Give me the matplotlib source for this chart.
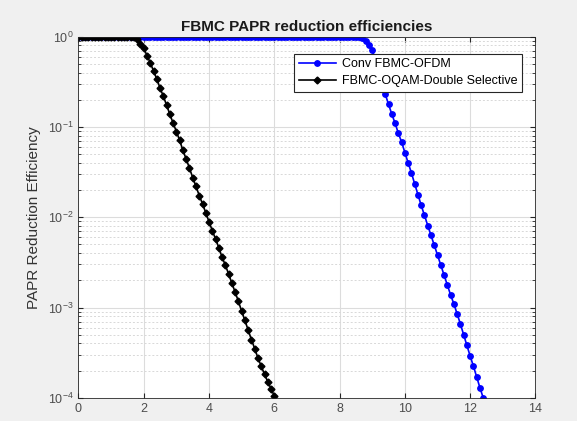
import numpy as np
import matplotlib
matplotlib.use("Agg")
import matplotlib.pyplot as plt
from matplotlib.ticker import LogLocator, NullFormatter, MultipleLocator

plt.rcParams["font.family"] = ["Liberation Sans", "DejaVu Sans"]
plt.rcParams["mathtext.default"] = "regular"

# PAPR threshold grid (dB)
x_conv = np.round(np.arange(0, 12.55, 0.1), 1)
x_dsel = np.round(np.arange(0, 6.15, 0.1), 1)

# Conv FBMC-OFDM, flat at 1 up to 8.5 dB
y_conv = [1.0] * 86 + [
    0.989, 0.955, 0.891, 0.813, 0.708, 0.550, 0.407, 0.302, 0.229, 0.178,
    0.138, 0.110, 8.5e-2, 6.8e-2, 5.2e-2, 4.0e-2, 3.1e-2, 2.34e-2, 1.78e-2, 1.35e-2,
    1.05e-2, 8.1e-3, 6.3e-3, 4.9e-3, 3.8e-3, 2.95e-3, 2.29e-3, 1.78e-3, 1.38e-3, 1.10e-3,
    8.5e-4, 6.6e-4, 5.0e-4, 3.8e-4, 2.9e-4, 2.24e-4, 1.70e-4, 1.29e-4, 1.0e-4, 7.6e-5,
]

# FBMC-OQAM-Double Selective, flat at 1 up to 1.6 dB
y_dsel = [1.0] * 17 + [
    0.989, 0.933, 0.832, 0.741, 0.617, 0.513, 0.417, 0.339, 0.269, 0.219,
    0.174, 0.138, 0.110, 8.9e-2, 7.1e-2, 5.5e-2, 4.4e-2, 3.5e-2, 2.75e-2, 2.2e-2,
    1.74e-2, 1.41e-2, 1.12e-2, 8.9e-3, 7.1e-3, 5.75e-3, 4.6e-3, 3.6e-3, 2.95e-3, 2.35e-3,
    1.86e-3, 1.48e-3, 1.17e-3, 9.1e-4, 7.2e-4, 5.6e-4, 4.4e-4, 3.5e-4, 2.75e-4, 2.24e-4,
    1.82e-4, 1.51e-4, 1.26e-4, 1.05e-4, 8.7e-5,
]

labels = ["Conv FBMC-OFDM", "FBMC-OQAM-Double Selective"]

fig = plt.figure(figsize=(5.77, 4.21), dpi=100, facecolor="#f0f0f0")
ax = fig.add_axes([0.136, 0.055, 0.792, 0.858])
ax.set_facecolor("white")

ax.semilogy(x_conv, y_conv, "-", color="#0000ff", marker="o", markersize=3.9,
            linewidth=1.2, label=labels[0])
ax.semilogy(x_dsel, y_dsel, "-", color="black", marker="D", markersize=3.5,
            linewidth=1.2, label=labels[1])

ax.set_xlim(0, 14)
ax.set_ylim(1e-4, 1)
ax.xaxis.set_major_locator(MultipleLocator(2))
ax.yaxis.set_major_locator(LogLocator(base=10, numticks=10))
ax.yaxis.set_minor_locator(LogLocator(base=10, subs=np.arange(2, 10), numticks=20))
ax.yaxis.set_minor_formatter(NullFormatter())

ax.grid(True, which="major", color="#dcdcdc", linewidth=0.8, linestyle="-")
ax.grid(True, which="minor", axis="y", color="#d8d8d8", linewidth=0.7, linestyle=(0, (2, 2)))
ax.set_axisbelow(True)

ax.tick_params(which="both", direction="in", top=True, right=True,
               colors="#262626", labelsize=9, labelcolor="#4d4d4d")
ax.tick_params(which="major", length=3.5)
ax.tick_params(which="minor", length=2)
for sp in ax.spines.values():
    sp.set_color("#262626")
    sp.set_linewidth(0.6)

ax.set_title("FBMC PAPR reduction efficiencies", fontsize=11, fontweight="bold",
             color="#1a1a1a", pad=4)
ax.set_ylabel("PAPR Reduction Efficiency", fontsize=11, color="#333333", labelpad=5)

leg = ax.legend(loc="upper right", bbox_to_anchor=(0.971, 0.952), fontsize=9,
                frameon=True, fancybox=False, framealpha=1, borderpad=0.35,
                handlelength=3.0, handletextpad=0.5, labelspacing=0.4,
                borderaxespad=0)
leg.get_frame().set_edgecolor("#262626")
leg.get_frame().set_linewidth(0.8)

fig.savefig("out.png", dpi=100, facecolor=fig.get_facecolor())
